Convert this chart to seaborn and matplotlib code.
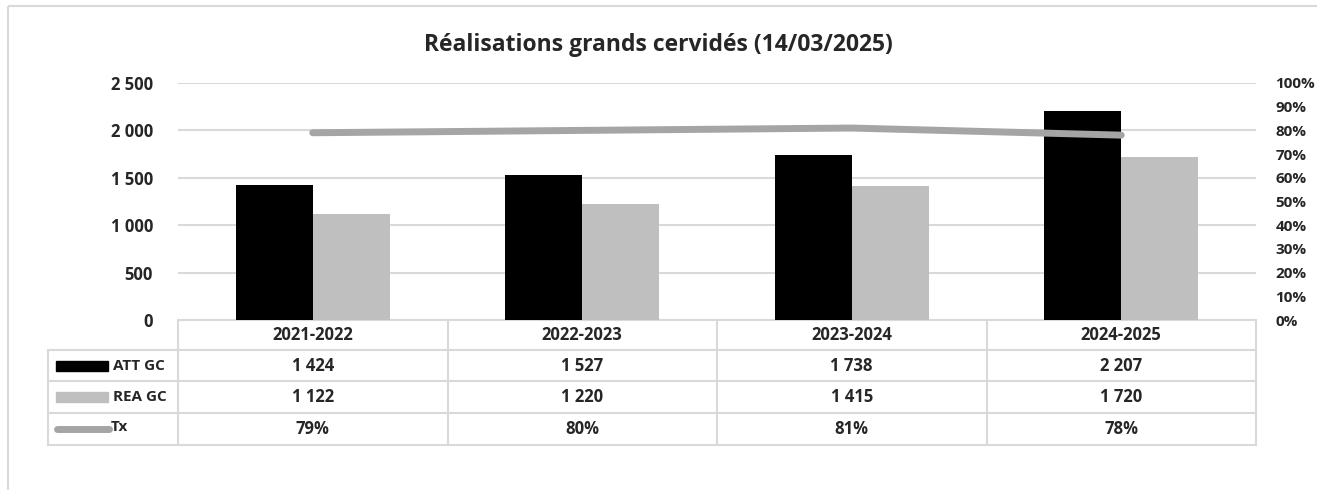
import numpy as np
import pandas as pd
import matplotlib
matplotlib.use("Agg")
import matplotlib.pyplot as plt
import seaborn as sns
from matplotlib.patches import Rectangle
from matplotlib.lines import Line2D
from matplotlib.ticker import FuncFormatter, MultipleLocator

# Données
saisons = ["2021-2022", "2022-2023", "2023-2024", "2024-2025"]
att_gc = [1424, 1527, 1738, 2207]
rea_gc = [1122, 1220, 1415, 1720]
tx = [79, 80, 81, 78]
series = ["ATT GC", "REA GC", "Tx"]
titre = "Réalisations grands cervidés (14/03/2025)"

sns.set_style("white")
plt.rcParams["font.family"] = ["Open Sans", "DejaVu Sans"]
plt.rcParams["font.weight"] = "bold"

W, H = 1317, 490
fig = plt.figure(figsize=(W / 100, H / 100), dpi=100)

# Axe en pixels pour le cadre et le tableau
bg = fig.add_axes([0, 0, 1, 1])
bg.set_xlim(0, W)
bg.set_ylim(H, 0)
bg.axis("off")

x0, x1 = 178, 1256
y_top, y_zero = 83, 320
ax = fig.add_axes([x0 / W, 1 - y_zero / H, (x1 - x0) / W, (y_zero - y_top) / H])
ax.patch.set_alpha(0)

df = pd.DataFrame({
    "saison": saisons * 2,
    "valeur": att_gc + rea_gc,
    "serie": [series[0]] * 4 + [series[1]] * 4,
})
sns.barplot(data=df, x="saison", y="valeur", hue="serie", palette=["#000000", "#BFBFBF"],
            width=0.57, gap=0, legend=False, ax=ax, saturation=1, zorder=2, linewidth=0)
ax.set_ylim(0, 2500)
ax.set_xlim(-0.5, 3.5)
ax.yaxis.set_major_locator(MultipleLocator(500))
ax.yaxis.set_major_formatter(FuncFormatter(lambda v, p: f"{int(v):,}".replace(",", " ")))
ax.grid(axis="y", color="#D9D9D9", linewidth=1.5, zorder=0)
ax.set_axisbelow(True)
ax.set_xlabel("")
ax.set_ylabel("")
ax.set_xticks([])
ax.tick_params(axis="y", length=0, pad=18, labelsize=12)
for s in ax.spines.values():
    s.set_visible(False)

ax2 = ax.twinx()
sns.lineplot(x=list(range(4)), y=tx, color="#A5A5A5", linewidth=5, ax=ax2,
             solid_capstyle="round", zorder=3)
ax2.set_ylim(0, 100)
ax2.yaxis.set_major_locator(MultipleLocator(10))
ax2.yaxis.set_major_formatter(FuncFormatter(lambda v, p: f"{int(v)}%"))
ax2.tick_params(axis="y", length=0, pad=14, labelsize=11)
for s in ax2.spines.values():
    s.set_visible(False)

# Titre
fig.text(0.5, 1 - 45 / H, titre, ha="center", va="center", fontsize=16.5, fontweight="bold")

# Cadre du graphique
bg.add_patch(Rectangle((8, 6), W + 20, H + 20, fill=False, edgecolor="#D9D9D9", linewidth=1.5))

# Tableau de données
grid_c = "#D9D9D9"
col_w = (x1 - x0) / 4
rows_y = [320, 350, 381, 413, 445]
lw = 1.5
# lignes horizontales
bg.plot([x0, x1], [rows_y[0], rows_y[0]], color=grid_c, lw=lw)
for yy in rows_y[1:]:
    bg.plot([48, x1], [yy, yy], color=grid_c, lw=lw)
# lignes verticales
bg.plot([48, 48], [rows_y[1], rows_y[-1]], color=grid_c, lw=lw)
for i in range(5):
    xx = x0 + i * col_w
    bg.plot([xx, xx], [rows_y[0], rows_y[-1]], color=grid_c, lw=lw)

fs = 12
for i, s in enumerate(saisons):
    cx = x0 + (i + 0.5) * col_w
    bg.text(cx, (rows_y[0] + rows_y[1]) / 2, s, ha="center", va="center", fontsize=fs)
    bg.text(cx, (rows_y[1] + rows_y[2]) / 2, f"{att_gc[i]:,}".replace(",", " "),
            ha="center", va="center", fontsize=fs)
    bg.text(cx, (rows_y[2] + rows_y[3]) / 2, f"{rea_gc[i]:,}".replace(",", " "),
            ha="center", va="center", fontsize=fs)
    bg.text(cx, (rows_y[3] + rows_y[4]) / 2, f"{tx[i]}%", ha="center", va="center", fontsize=fs)

# Légendes dans le tableau
cy = [(rows_y[k] + rows_y[k + 1]) / 2 for k in range(1, 4)]
bg.add_patch(Rectangle((56, cy[0] - 5), 52, 10, color="#000000"))
bg.add_patch(Rectangle((56, cy[1] - 5), 52, 10, color="#BFBFBF"))
bg.add_line(Line2D([57, 109], [cy[2], cy[2]], color="#A5A5A5", lw=5, solid_capstyle="round"))
bg.text(113, cy[0], series[0], ha="left", va="center", fontsize=11)
bg.text(113, cy[1], series[1], ha="left", va="center", fontsize=11)
bg.text(111, cy[2] - 2, series[2], ha="left", va="center", fontsize=11)

fig.savefig("out.png", dpi=100, facecolor="white")
